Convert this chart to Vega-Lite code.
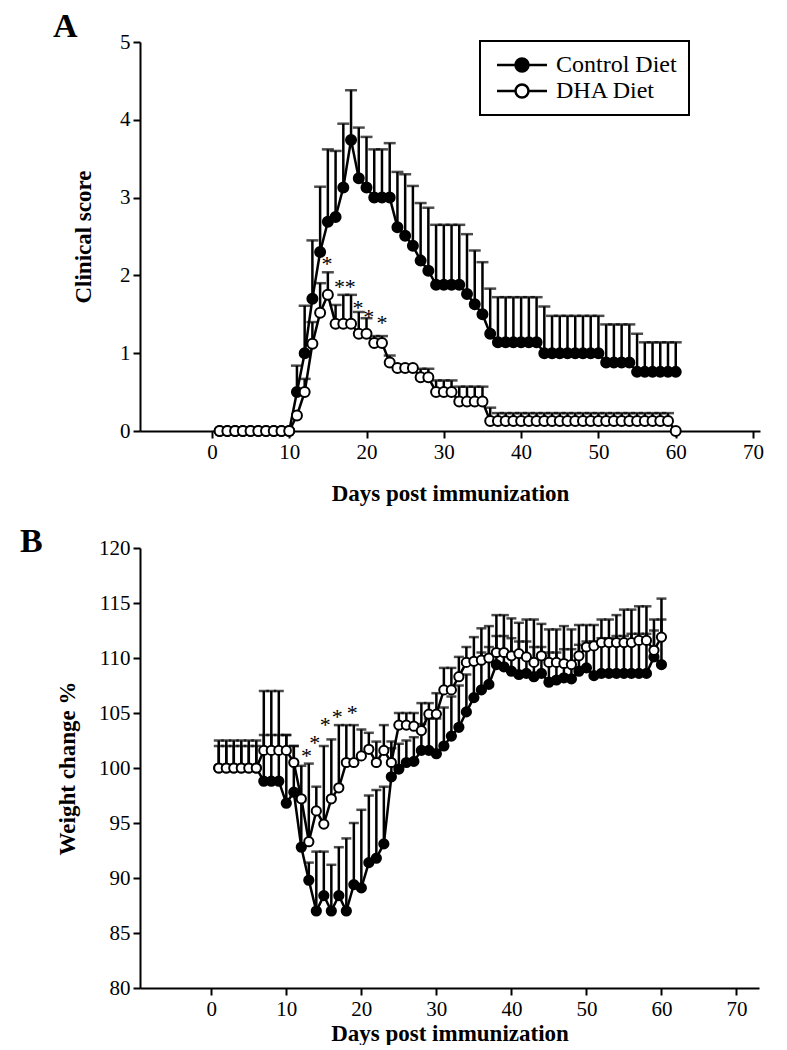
{
  "$schema": "https://vega.github.io/schema/vega-lite/v6.json",
  "background": "white",
  "padding": {"left": 20, "top": 10, "right": 5, "bottom": 0},
  "spacing": 20,
  "config": {
    "font": "Liberation Serif",
    "view": {"stroke": null},
    "axis": {"grid": false, "domainColor": "black", "domainWidth": 2, "tickColor": "black", "tickWidth": 2, "tickSize": 7, "labelFont": "Liberation Serif", "labelFontSize": 21, "labelColor": "black", "labelPadding": 3, "titleFont": "Liberation Serif", "titleFontSize": 23, "titleFontWeight": "bold", "titleColor": "black"},
    "title": {"font": "Liberation Serif", "fontSize": 34, "fontWeight": "bold", "anchor": "start", "frame": "group", "color": "black"},
    "legend": {"strokeColor": "black", "strokeWidth": 2, "fillColor": "white", "padding": 14, "labelFont": "Liberation Serif", "labelFontSize": 24, "labelColor": "black", "symbolType": "M-1.4,0H2.3M4.9,0H8.6M2.3,0A1.3,1.3,0,1,1,4.9,0A1.3,1.3,0,1,1,2.3,0Z", "symbolSize": 100, "symbolStrokeColor": "black", "symbolStrokeWidth": 2.5, "symbolOpacity": 1, "labelOffset": 40, "rowPadding": 6}
  },
  "datasets": {
    "scoreA": [
      {"day":1,"group":"Control Diet","value":0,"upper":null},{"day":2,"group":"Control Diet","value":0,"upper":null},{"day":3,"group":"Control Diet","value":0,"upper":null},{"day":4,"group":"Control Diet","value":0,"upper":null},{"day":5,"group":"Control Diet","value":0,"upper":null},{"day":6,"group":"Control Diet","value":0,"upper":null},{"day":7,"group":"Control Diet","value":0,"upper":null},{"day":8,"group":"Control Diet","value":0,"upper":null},{"day":9,"group":"Control Diet","value":0,"upper":null},{"day":10,"group":"Control Diet","value":0,"upper":null},
      {"day":11,"group":"Control Diet","value":0.5,"upper":0.84},{"day":12,"group":"Control Diet","value":1.0,"upper":1.61},{"day":13,"group":"Control Diet","value":1.7,"upper":2.45},{"day":14,"group":"Control Diet","value":2.3,"upper":3.14},{"day":15,"group":"Control Diet","value":2.69,"upper":3.62},{"day":16,"group":"Control Diet","value":2.75,"upper":3.6},{"day":17,"group":"Control Diet","value":3.13,"upper":3.95},{"day":18,"group":"Control Diet","value":3.74,"upper":4.38},{"day":19,"group":"Control Diet","value":3.25,"upper":3.9},{"day":20,"group":"Control Diet","value":3.13,"upper":3.78},
      {"day":21,"group":"Control Diet","value":3.0,"upper":3.62},{"day":22,"group":"Control Diet","value":3.0,"upper":3.62},{"day":23,"group":"Control Diet","value":3.0,"upper":3.7},{"day":24,"group":"Control Diet","value":2.62,"upper":3.33},{"day":25,"group":"Control Diet","value":2.51,"upper":3.3},{"day":26,"group":"Control Diet","value":2.38,"upper":3.15},{"day":27,"group":"Control Diet","value":2.19,"upper":2.93},{"day":28,"group":"Control Diet","value":2.06,"upper":2.87},{"day":29,"group":"Control Diet","value":1.88,"upper":2.65},{"day":30,"group":"Control Diet","value":1.88,"upper":2.65},
      {"day":31,"group":"Control Diet","value":1.88,"upper":2.65},{"day":32,"group":"Control Diet","value":1.88,"upper":2.65},{"day":33,"group":"Control Diet","value":1.76,"upper":2.53},{"day":34,"group":"Control Diet","value":1.63,"upper":2.32},{"day":35,"group":"Control Diet","value":1.5,"upper":2.17},{"day":36,"group":"Control Diet","value":1.25,"upper":1.83},{"day":37,"group":"Control Diet","value":1.14,"upper":1.72},{"day":38,"group":"Control Diet","value":1.14,"upper":1.72},{"day":39,"group":"Control Diet","value":1.14,"upper":1.72},{"day":40,"group":"Control Diet","value":1.14,"upper":1.72},
      {"day":41,"group":"Control Diet","value":1.14,"upper":1.72},{"day":42,"group":"Control Diet","value":1.14,"upper":1.72},{"day":43,"group":"Control Diet","value":1.0,"upper":1.6},{"day":44,"group":"Control Diet","value":1.0,"upper":1.48},{"day":45,"group":"Control Diet","value":1.0,"upper":1.48},{"day":46,"group":"Control Diet","value":1.0,"upper":1.48},{"day":47,"group":"Control Diet","value":1.0,"upper":1.48},{"day":48,"group":"Control Diet","value":1.0,"upper":1.48},{"day":49,"group":"Control Diet","value":1.0,"upper":1.48},{"day":50,"group":"Control Diet","value":1.0,"upper":1.48},
      {"day":51,"group":"Control Diet","value":0.88,"upper":1.37},{"day":52,"group":"Control Diet","value":0.88,"upper":1.37},{"day":53,"group":"Control Diet","value":0.88,"upper":1.37},{"day":54,"group":"Control Diet","value":0.88,"upper":1.37},{"day":55,"group":"Control Diet","value":0.76,"upper":1.25},{"day":56,"group":"Control Diet","value":0.76,"upper":1.14},{"day":57,"group":"Control Diet","value":0.76,"upper":1.14},{"day":58,"group":"Control Diet","value":0.76,"upper":1.14},{"day":59,"group":"Control Diet","value":0.76,"upper":1.14},{"day":60,"group":"Control Diet","value":0.76,"upper":1.14},
      {"day":1,"group":"DHA Diet","value":0,"upper":null},{"day":2,"group":"DHA Diet","value":0,"upper":null},{"day":3,"group":"DHA Diet","value":0,"upper":null},{"day":4,"group":"DHA Diet","value":0,"upper":null},{"day":5,"group":"DHA Diet","value":0,"upper":null},{"day":6,"group":"DHA Diet","value":0,"upper":null},{"day":7,"group":"DHA Diet","value":0,"upper":null},{"day":8,"group":"DHA Diet","value":0,"upper":null},{"day":9,"group":"DHA Diet","value":0,"upper":null},{"day":10,"group":"DHA Diet","value":0,"upper":null},
      {"day":11,"group":"DHA Diet","value":0.2,"upper":null},{"day":12,"group":"DHA Diet","value":0.5,"upper":0.67},{"day":13,"group":"DHA Diet","value":1.12,"upper":1.4},{"day":14,"group":"DHA Diet","value":1.52,"upper":1.9},{"day":15,"group":"DHA Diet","value":1.75,"upper":2.04},{"day":16,"group":"DHA Diet","value":1.38,"upper":1.62},{"day":17,"group":"DHA Diet","value":1.38,"upper":1.75},{"day":18,"group":"DHA Diet","value":1.38,"upper":1.75},{"day":19,"group":"DHA Diet","value":1.25,"upper":1.53},{"day":20,"group":"DHA Diet","value":1.25,"upper":1.45},
      {"day":21,"group":"DHA Diet","value":1.13,"upper":1.22},{"day":22,"group":"DHA Diet","value":1.13,"upper":1.22},{"day":23,"group":"DHA Diet","value":0.88,"upper":0.97},{"day":24,"group":"DHA Diet","value":0.81,"upper":null},{"day":25,"group":"DHA Diet","value":0.81,"upper":null},{"day":26,"group":"DHA Diet","value":0.81,"upper":null},{"day":27,"group":"DHA Diet","value":0.69,"upper":0.8},{"day":28,"group":"DHA Diet","value":0.69,"upper":0.8},{"day":29,"group":"DHA Diet","value":0.5,"upper":0.65},{"day":30,"group":"DHA Diet","value":0.5,"upper":0.65},
      {"day":31,"group":"DHA Diet","value":0.5,"upper":0.65},{"day":32,"group":"DHA Diet","value":0.38,"upper":0.57},{"day":33,"group":"DHA Diet","value":0.38,"upper":0.57},{"day":34,"group":"DHA Diet","value":0.38,"upper":0.57},{"day":35,"group":"DHA Diet","value":0.38,"upper":0.57},{"day":36,"group":"DHA Diet","value":0.13,"upper":0.3},{"day":37,"group":"DHA Diet","value":0.13,"upper":0.23},{"day":38,"group":"DHA Diet","value":0.13,"upper":0.23},{"day":39,"group":"DHA Diet","value":0.13,"upper":0.23},{"day":40,"group":"DHA Diet","value":0.13,"upper":0.23},
      {"day":41,"group":"DHA Diet","value":0.13,"upper":0.23},{"day":42,"group":"DHA Diet","value":0.13,"upper":0.23},{"day":43,"group":"DHA Diet","value":0.13,"upper":0.23},{"day":44,"group":"DHA Diet","value":0.13,"upper":0.23},{"day":45,"group":"DHA Diet","value":0.13,"upper":0.23},{"day":46,"group":"DHA Diet","value":0.13,"upper":0.23},{"day":47,"group":"DHA Diet","value":0.13,"upper":0.23},{"day":48,"group":"DHA Diet","value":0.13,"upper":0.23},{"day":49,"group":"DHA Diet","value":0.13,"upper":0.23},{"day":50,"group":"DHA Diet","value":0.13,"upper":0.23},
      {"day":51,"group":"DHA Diet","value":0.13,"upper":0.23},{"day":52,"group":"DHA Diet","value":0.13,"upper":0.23},{"day":53,"group":"DHA Diet","value":0.13,"upper":0.23},{"day":54,"group":"DHA Diet","value":0.13,"upper":0.23},{"day":55,"group":"DHA Diet","value":0.13,"upper":0.23},{"day":56,"group":"DHA Diet","value":0.13,"upper":0.23},{"day":57,"group":"DHA Diet","value":0.13,"upper":0.23},{"day":58,"group":"DHA Diet","value":0.13,"upper":0.23},{"day":59,"group":"DHA Diet","value":0.13,"upper":0.23},{"day":60,"group":"DHA Diet","value":0,"upper":null}
    ],
    "starsA": [
      {"day":14.9,"value":2.15,"label":"*"},{"day":16.5,"value":1.85,"label":"*"},{"day":17.9,"value":1.85,"label":"*"},{"day":18.9,"value":1.58,"label":"*"},{"day":20.3,"value":1.47,"label":"*"},{"day":22.0,"value":1.39,"label":"*"}
    ],
    "weightB": [
      {"day":1,"group":"Control Diet","value":100,"upper":102.0},{"day":2,"group":"Control Diet","value":100,"upper":102.0},{"day":3,"group":"Control Diet","value":100,"upper":102.0},{"day":4,"group":"Control Diet","value":100,"upper":102.0},{"day":5,"group":"Control Diet","value":100,"upper":102.0},{"day":6,"group":"Control Diet","value":100,"upper":102.0},{"day":7,"group":"Control Diet","value":98.8,"upper":107.0},{"day":8,"group":"Control Diet","value":98.8,"upper":107.0},{"day":9,"group":"Control Diet","value":98.8,"upper":107.0},{"day":10,"group":"Control Diet","value":96.8,"upper":103.0},
      {"day":11,"group":"Control Diet","value":97.8,"upper":102.0},{"day":12,"group":"Control Diet","value":92.8,"upper":97.0},{"day":13,"group":"Control Diet","value":89.8,"upper":91.4},{"day":14,"group":"Control Diet","value":87.0,"upper":92.4},{"day":15,"group":"Control Diet","value":88.4,"upper":92.4},{"day":16,"group":"Control Diet","value":87.0,"upper":91.2},{"day":17,"group":"Control Diet","value":88.4,"upper":92.8},{"day":18,"group":"Control Diet","value":87.0,"upper":93.6},{"day":19,"group":"Control Diet","value":89.4,"upper":95.0},{"day":20,"group":"Control Diet","value":89.1,"upper":96.2},
      {"day":21,"group":"Control Diet","value":91.4,"upper":97.5},{"day":22,"group":"Control Diet","value":91.8,"upper":98.0},{"day":23,"group":"Control Diet","value":93.1,"upper":98.3},{"day":24,"group":"Control Diet","value":99.2,"upper":101.8},{"day":25,"group":"Control Diet","value":99.9,"upper":102.2},{"day":26,"group":"Control Diet","value":100.5,"upper":102.5},{"day":27,"group":"Control Diet","value":100.6,"upper":102.8},{"day":28,"group":"Control Diet","value":101.6,"upper":104.0},{"day":29,"group":"Control Diet","value":101.6,"upper":104.5},{"day":30,"group":"Control Diet","value":101.3,"upper":104.5},
      {"day":31,"group":"Control Diet","value":102.0,"upper":105.5},{"day":32,"group":"Control Diet","value":102.9,"upper":106.5},{"day":33,"group":"Control Diet","value":103.7,"upper":107.5},{"day":34,"group":"Control Diet","value":105.1,"upper":108.5},{"day":35,"group":"Control Diet","value":106.4,"upper":109.5},{"day":36,"group":"Control Diet","value":107.1,"upper":110.5},{"day":37,"group":"Control Diet","value":107.6,"upper":111.0},{"day":38,"group":"Control Diet","value":109.4,"upper":112.0},{"day":39,"group":"Control Diet","value":109.2,"upper":112.0},{"day":40,"group":"Control Diet","value":108.8,"upper":111.8},
      {"day":41,"group":"Control Diet","value":108.5,"upper":111.5},{"day":42,"group":"Control Diet","value":108.6,"upper":111.5},{"day":43,"group":"Control Diet","value":108.3,"upper":111.0},{"day":44,"group":"Control Diet","value":108.6,"upper":111.0},{"day":45,"group":"Control Diet","value":107.8,"upper":110.5},{"day":46,"group":"Control Diet","value":108.0,"upper":110.5},{"day":47,"group":"Control Diet","value":108.2,"upper":110.8},{"day":48,"group":"Control Diet","value":108.1,"upper":110.8},{"day":49,"group":"Control Diet","value":108.8,"upper":111.2},{"day":50,"group":"Control Diet","value":109.1,"upper":111.5},
      {"day":51,"group":"Control Diet","value":108.4,"upper":111.5},{"day":52,"group":"Control Diet","value":108.6,"upper":111.8},{"day":53,"group":"Control Diet","value":108.6,"upper":111.8},{"day":54,"group":"Control Diet","value":108.6,"upper":112.0},{"day":55,"group":"Control Diet","value":108.6,"upper":112.0},{"day":56,"group":"Control Diet","value":108.6,"upper":112.2},{"day":57,"group":"Control Diet","value":108.6,"upper":112.2},{"day":58,"group":"Control Diet","value":108.6,"upper":112.2},{"day":59,"group":"Control Diet","value":110.1,"upper":112.5},{"day":60,"group":"Control Diet","value":109.4,"upper":113.5},
      {"day":1,"group":"DHA Diet","value":100,"upper":102.5},{"day":2,"group":"DHA Diet","value":100,"upper":102.5},{"day":3,"group":"DHA Diet","value":100,"upper":102.5},{"day":4,"group":"DHA Diet","value":100,"upper":102.5},{"day":5,"group":"DHA Diet","value":100,"upper":102.5},{"day":6,"group":"DHA Diet","value":100,"upper":102.5},{"day":7,"group":"DHA Diet","value":101.6,"upper":103.0},{"day":8,"group":"DHA Diet","value":101.6,"upper":103.0},{"day":9,"group":"DHA Diet","value":101.6,"upper":103.0},{"day":10,"group":"DHA Diet","value":101.6,"upper":103.0},
      {"day":11,"group":"DHA Diet","value":100.5,"upper":102.0},{"day":12,"group":"DHA Diet","value":97.2,"upper":100.2},{"day":13,"group":"DHA Diet","value":93.3,"upper":100.4},{"day":14,"group":"DHA Diet","value":96.1,"upper":98.3},{"day":15,"group":"DHA Diet","value":94.9,"upper":102.0},{"day":16,"group":"DHA Diet","value":97.2,"upper":102.6},{"day":17,"group":"DHA Diet","value":98.2,"upper":103.9},{"day":18,"group":"DHA Diet","value":100.5,"upper":103.9},{"day":19,"group":"DHA Diet","value":100.5,"upper":103.9},{"day":20,"group":"DHA Diet","value":101.1,"upper":103.5},
      {"day":21,"group":"DHA Diet","value":101.7,"upper":103.2},{"day":22,"group":"DHA Diet","value":100.5,"upper":102.4},{"day":23,"group":"DHA Diet","value":101.6,"upper":103.9},{"day":24,"group":"DHA Diet","value":100.5,"upper":102.4},{"day":25,"group":"DHA Diet","value":103.9,"upper":105.0},{"day":26,"group":"DHA Diet","value":103.9,"upper":105.0},{"day":27,"group":"DHA Diet","value":103.8,"upper":105.0},{"day":28,"group":"DHA Diet","value":103.4,"upper":105.9},{"day":29,"group":"DHA Diet","value":104.9,"upper":105.9},{"day":30,"group":"DHA Diet","value":104.9,"upper":106.8},
      {"day":31,"group":"DHA Diet","value":107.1,"upper":109.1},{"day":32,"group":"DHA Diet","value":107.1,"upper":109.1},{"day":33,"group":"DHA Diet","value":108.3,"upper":110.1},{"day":34,"group":"DHA Diet","value":109.6,"upper":111.0},{"day":35,"group":"DHA Diet","value":109.7,"upper":111.9},{"day":36,"group":"DHA Diet","value":109.8,"upper":112.7},{"day":37,"group":"DHA Diet","value":110.0,"upper":112.9},{"day":38,"group":"DHA Diet","value":110.5,"upper":113.9},{"day":39,"group":"DHA Diet","value":110.5,"upper":113.9},{"day":40,"group":"DHA Diet","value":110.2,"upper":113.6},
      {"day":41,"group":"DHA Diet","value":110.4,"upper":113.2},{"day":42,"group":"DHA Diet","value":110.1,"upper":113.5},{"day":43,"group":"DHA Diet","value":109.6,"upper":113.5},{"day":44,"group":"DHA Diet","value":110.2,"upper":113.1},{"day":45,"group":"DHA Diet","value":109.6,"upper":112.6},{"day":46,"group":"DHA Diet","value":109.6,"upper":112.6},{"day":47,"group":"DHA Diet","value":109.5,"upper":112.9},{"day":48,"group":"DHA Diet","value":109.4,"upper":112.6},{"day":49,"group":"DHA Diet","value":110.2,"upper":113.0},{"day":50,"group":"DHA Diet","value":111.0,"upper":113.0},
      {"day":51,"group":"DHA Diet","value":111.1,"upper":113.0},{"day":52,"group":"DHA Diet","value":111.4,"upper":113.5},{"day":53,"group":"DHA Diet","value":111.4,"upper":113.5},{"day":54,"group":"DHA Diet","value":111.4,"upper":113.9},{"day":55,"group":"DHA Diet","value":111.4,"upper":114.4},{"day":56,"group":"DHA Diet","value":111.4,"upper":114.4},{"day":57,"group":"DHA Diet","value":111.6,"upper":114.7},{"day":58,"group":"DHA Diet","value":111.6,"upper":114.7},{"day":59,"group":"DHA Diet","value":110.7,"upper":113.5},{"day":60,"group":"DHA Diet","value":111.9,"upper":115.4}
    ],
    "starsB": [
      {"day":12.7,"value":101.1,"label":"*"},{"day":13.8,"value":102.3,"label":"*"},{"day":15.2,"value":103.9,"label":"*"},{"day":16.8,"value":104.6,"label":"*"},{"day":18.8,"value":105.0,"label":"*"}
    ]
  },
  "vconcat": [
    {
      "width": 620,
      "height": 389,
      "title": {"text": "A", "dx": -87, "offset": -13},
      "layer": [
        {
          "data": {"name": "scoreA"},
          "transform": [{"filter": "datum.upper != null"}],
          "mark": {"type": "rule", "color": "black", "strokeWidth": 2.5},
          "encoding": {
            "x": {"field": "day", "type": "quantitative", "scale": {"domain": [-9.3, 70.9], "nice": false, "zero": false}, "axis": {"values": [0,10,20,30,40,50,60,70], "title": "Days post immunization", "titlePadding": 20}},
            "y": {"field": "value", "type": "quantitative", "scale": {"domain": [0, 5], "nice": false}, "axis": {"values": [0,1,2,3,4,5], "format": "d", "title": "Clinical score", "titlePadding": 24}},
            "y2": {"field": "upper"}
          }
        },
        {
          "data": {"name": "scoreA"},
          "transform": [{"filter": "datum.upper != null"}],
          "mark": {"type": "tick", "orient": "horizontal", "color": "black", "size": 12, "thickness": 2.5},
          "encoding": {
            "x": {"field": "day", "type": "quantitative"},
            "y": {"field": "upper", "type": "quantitative"}
          }
        },
        {
          "data": {"name": "scoreA"},
          "mark": {"type": "line", "color": "black", "strokeWidth": 2.5},
          "encoding": {
            "x": {"field": "day", "type": "quantitative"},
            "y": {"field": "value", "type": "quantitative"},
            "detail": {"field": "group"}
          }
        },
        {
          "data": {"name": "scoreA"},
          "mark": {"type": "point", "shape": "circle", "filled": true, "size": 100, "stroke": "black", "strokeWidth": 2, "opacity": 1},
          "encoding": {
            "x": {"field": "day", "type": "quantitative"},
            "y": {"field": "value", "type": "quantitative"},
            "fill": {"field": "group", "type": "nominal", "scale": {"domain": ["Control Diet", "DHA Diet"], "range": ["black", "white"]}, "legend": {"title": null, "orient": "none", "legendX": 340, "legendY": -1, "labelExpr": "datum.label + '\u00a0\u00a0\u00a0\u00a0'"}}
          }
        },
        {
          "data": {"name": "starsA"},
          "mark": {"type": "text", "fontSize": 22, "baseline": "middle", "align": "center", "color": "black"},
          "encoding": {
            "x": {"field": "day", "type": "quantitative"},
            "y": {"field": "value", "type": "quantitative"},
            "text": {"field": "label"}
          }
        }
      ]
    },
    {
      "width": 619,
      "height": 440,
      "title": {"text": "B", "dx": -120, "offset": -22},
      "layer": [
        {
          "data": {"name": "weightB"},
          "mark": {"type": "rule", "color": "black", "strokeWidth": 2.5},
          "encoding": {
            "x": {"field": "day", "type": "quantitative", "scale": {"domain": [-9.5, 73], "nice": false, "zero": false}, "axis": {"values": [0,10,20,30,40,50,60,70], "title": "Days post immunization", "titlePadding": 3}},
            "y": {"field": "value", "type": "quantitative", "scale": {"domain": [80, 120], "nice": false, "zero": false}, "axis": {"values": [80,85,90,95,100,105,110,115,120], "title": "Weight change %", "titlePadding": 19}},
            "y2": {"field": "upper"}
          }
        },
        {
          "data": {"name": "weightB"},
          "mark": {"type": "tick", "orient": "horizontal", "color": "black", "size": 10, "thickness": 2.5},
          "encoding": {
            "x": {"field": "day", "type": "quantitative"},
            "y": {"field": "upper", "type": "quantitative"}
          }
        },
        {
          "data": {"name": "weightB"},
          "mark": {"type": "line", "color": "black", "strokeWidth": 2.5},
          "encoding": {
            "x": {"field": "day", "type": "quantitative"},
            "y": {"field": "value", "type": "quantitative"},
            "detail": {"field": "group"}
          }
        },
        {
          "data": {"name": "weightB"},
          "mark": {"type": "point", "shape": "circle", "filled": true, "size": 85, "stroke": "black", "strokeWidth": 2, "opacity": 1},
          "encoding": {
            "x": {"field": "day", "type": "quantitative"},
            "y": {"field": "value", "type": "quantitative"},
            "fill": {"field": "group", "type": "nominal", "scale": {"domain": ["Control Diet", "DHA Diet"], "range": ["black", "white"]}, "legend": {"title": null, "orient": "none", "legendX": 30, "legendY": 20, "rowPadding": 2, "padding": 12}}
          }
        },
        {
          "data": {"name": "starsB"},
          "mark": {"type": "text", "fontSize": 22, "baseline": "middle", "align": "center", "color": "black"},
          "encoding": {
            "x": {"field": "day", "type": "quantitative"},
            "y": {"field": "value", "type": "quantitative"},
            "text": {"field": "label"}
          }
        }
      ]
    }
  ]
}
